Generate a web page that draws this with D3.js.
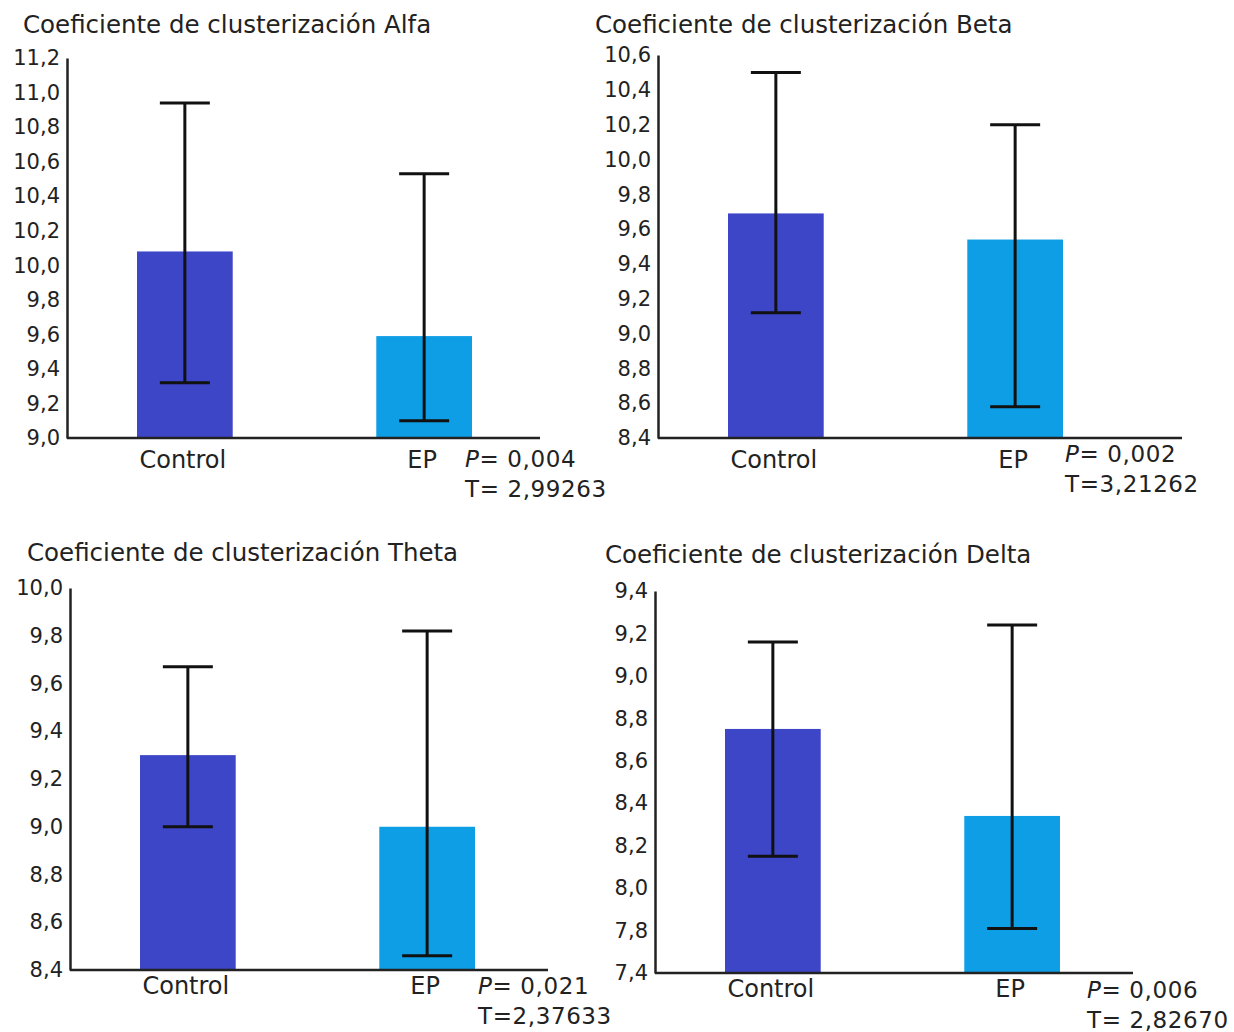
<!DOCTYPE html>
<html>
<head>
<meta charset="utf-8">
<script src="https://cdn.jsdelivr.net/npm/d3@7"></script>
<style>
  body { margin: 0; background: #fff; }
  svg text { font-family: "DejaVu Sans", Verdana, sans-serif; fill: #222; }
</style>
</head>
<body>
<div id="chart"></div>
<script>
// groups shown in every panel
var categories = ["Control", "EP"];

// Alfa
var alfaMean = [10.08, 9.59];
var alfaLow = [9.32, 9.10];
var alfaHigh = [10.94, 10.53];
var alfaTicks = [9.0, 9.2, 9.4, 9.6, 9.8, 10.0, 10.2, 10.4, 10.6, 10.8, 11.0, 11.2];
var alfaTickLabels = ["9,0", "9,2", "9,4", "9,6", "9,8", "10,0", "10,2", "10,4", "10,6", "10,8", "11,0", "11,2"];

// Beta
var betaMean = [9.69, 9.54];
var betaLow = [9.12, 8.58];
var betaHigh = [10.50, 10.20];
var betaTicks = [8.4, 8.6, 8.8, 9.0, 9.2, 9.4, 9.6, 9.8, 10.0, 10.2, 10.4, 10.6];
var betaTickLabels = ["8,4", "8,6", "8,8", "9,0", "9,2", "9,4", "9,6", "9,8", "10,0", "10,2", "10,4", "10,6"];

// Theta
var thetaMean = [9.30, 9.00];
var thetaLow = [9.00, 8.46];
var thetaHigh = [9.67, 9.82];
var thetaTicks = [8.4, 8.6, 8.8, 9.0, 9.2, 9.4, 9.6, 9.8, 10.0];
var thetaTickLabels = ["8,4", "8,6", "8,8", "9,0", "9,2", "9,4", "9,6", "9,8", "10,0"];

// Delta (the bottom label of the original axis reads 7,4)
var deltaMean = [8.75, 8.34];
var deltaLow = [8.15, 7.81];
var deltaHigh = [9.16, 9.24];
var deltaTicks = [7.6, 7.8, 8.0, 8.2, 8.4, 8.6, 8.8, 9.0, 9.2, 9.4];
var deltaTickLabels = ["7,4", "7,8", "8,0", "8,2", "8,4", "8,6", "8,8", "9,0", "9,2", "9,4"];

var titles = ["Coeficiente de clusterización Alfa", "Coeficiente de clusterización Beta",
              "Coeficiente de clusterización Theta", "Coeficiente de clusterización Delta"];
var pValues = ["0,004", "0,002", "0,021", "0,006"];
var tValues = ["T= 2,99263", "T=3,21262", "T=2,37633", "T= 2,82670"];

var colors = ["#3e46c8", "#0e9ee6"];

var panels = [
  {title: titles[0], mean: alfaMean, low: alfaLow, high: alfaHigh, ticks: alfaTicks, labels: alfaTickLabels,
   p: pValues[0], t: tValues[0], ax: 67, top: 58, bottom: 438, xEnd: 540, tx: 23, ty: 33, labDy: 30, px: 465, py: 467},
  {title: titles[1], mean: betaMean, low: betaLow, high: betaHigh, ticks: betaTicks, labels: betaTickLabels,
   p: pValues[1], t: tValues[1], ax: 658, top: 55, bottom: 438, xEnd: 1182, tx: 595, ty: 33, labDy: 30, px: 1065, py: 462},
  {title: titles[2], mean: thetaMean, low: thetaLow, high: thetaHigh, ticks: thetaTicks, labels: thetaTickLabels,
   p: pValues[2], t: tValues[2], ax: 70, top: 588, bottom: 970, xEnd: 548, tx: 27, ty: 561, labDy: 24, px: 478, py: 994},
  {title: titles[3], mean: deltaMean, low: deltaLow, high: deltaHigh, ticks: deltaTicks, labels: deltaTickLabels,
   p: pValues[3], t: tValues[3], ax: 655, top: 591, bottom: 973, xEnd: 1133, tx: 605, ty: 563, labDy: 24, px: 1087, py: 998}
];

var svg = d3.select("#chart").append("svg")
    .attr("width", 1234)
    .attr("height", 1032);

panels.forEach(function(pn){
    var g = svg.append("g");

    var y = d3.scaleLinear()
        .domain([pn.ticks[0], pn.ticks[pn.ticks.length-1]])
        .range([pn.bottom, pn.top]);

    var x = d3.scaleBand()
        .domain(categories)
        .range([pn.ax + 70, pn.ax + 405])
        .paddingInner(0.6)
        .paddingOuter(0);

    g.append("text")
        .attr("x", pn.tx)
        .attr("y", pn.ty)
        .attr("font-size", "24.5px")
        .text(pn.title);

    // bars
    g.selectAll("rect.bar").data(categories).enter().append("rect")
        .attr("class", "bar")
        .attr("x", function(d){ return x(d); })
        .attr("width", x.bandwidth())
        .attr("y", function(d, i){ return y(pn.mean[i]); })
        .attr("height", function(d, i){ return pn.bottom - y(pn.mean[i]); })
        .attr("fill", function(d, i){ return colors[i]; });

    // error bars
    var capW = 50;
    categories.forEach(function(c, i){
        var cx = x(c) + x.bandwidth()/2;
        g.append("line").attr("x1", cx).attr("x2", cx)
            .attr("y1", y(pn.low[i])).attr("y2", y(pn.high[i]))
            .style("stroke", "#111").style("stroke-width", 3);
        [pn.low[i], pn.high[i]].forEach(function(v){
            g.append("line").attr("x1", cx - capW/2).attr("x2", cx + capW/2)
                .attr("y1", y(v)).attr("y2", y(v))
                .style("stroke", "#111").style("stroke-width", 3);
        });
        g.append("text")
            .attr("x", cx - 2)
            .attr("y", pn.bottom + pn.labDy)
            .attr("text-anchor", "middle")
            .attr("font-size", "24px")
            .text(c);
    });

    // y axis
    var yAxis = d3.axisLeft(y)
        .tickValues(pn.ticks)
        .tickFormat(function(d, i){ return pn.labels[i]; })
        .tickSizeInner(0)
        .tickSizeOuter(0)
        .tickPadding(7);
    var ag = g.append("g")
        .attr("transform", "translate(" + pn.ax + ",0)")
        .call(yAxis);
    ag.select(".domain").style("stroke", "#222").style("stroke-width", 2.5);
    ag.selectAll("text").attr("font-size", "21px").style("fill", "#222");

    // baseline
    g.append("line")
        .attr("x1", pn.ax).attr("x2", pn.xEnd)
        .attr("y1", pn.bottom).attr("y2", pn.bottom)
        .style("stroke", "#222").style("stroke-width", 2.5);

    // test annotation
    var pt = g.append("text")
        .attr("x", pn.px)
        .attr("y", pn.py)
        .attr("font-size", "23px")
        .style("letter-spacing", "0.6px");
    pt.append("tspan").attr("font-style", "italic").text("P");
    pt.append("tspan").text("= " + pn.p);
    g.append("text")
        .attr("x", pn.px)
        .attr("y", pn.py + 30)
        .attr("font-size", "23px")
        .style("letter-spacing", "0.6px")
        .text(pn.t);
});
</script>
</body>
</html>
